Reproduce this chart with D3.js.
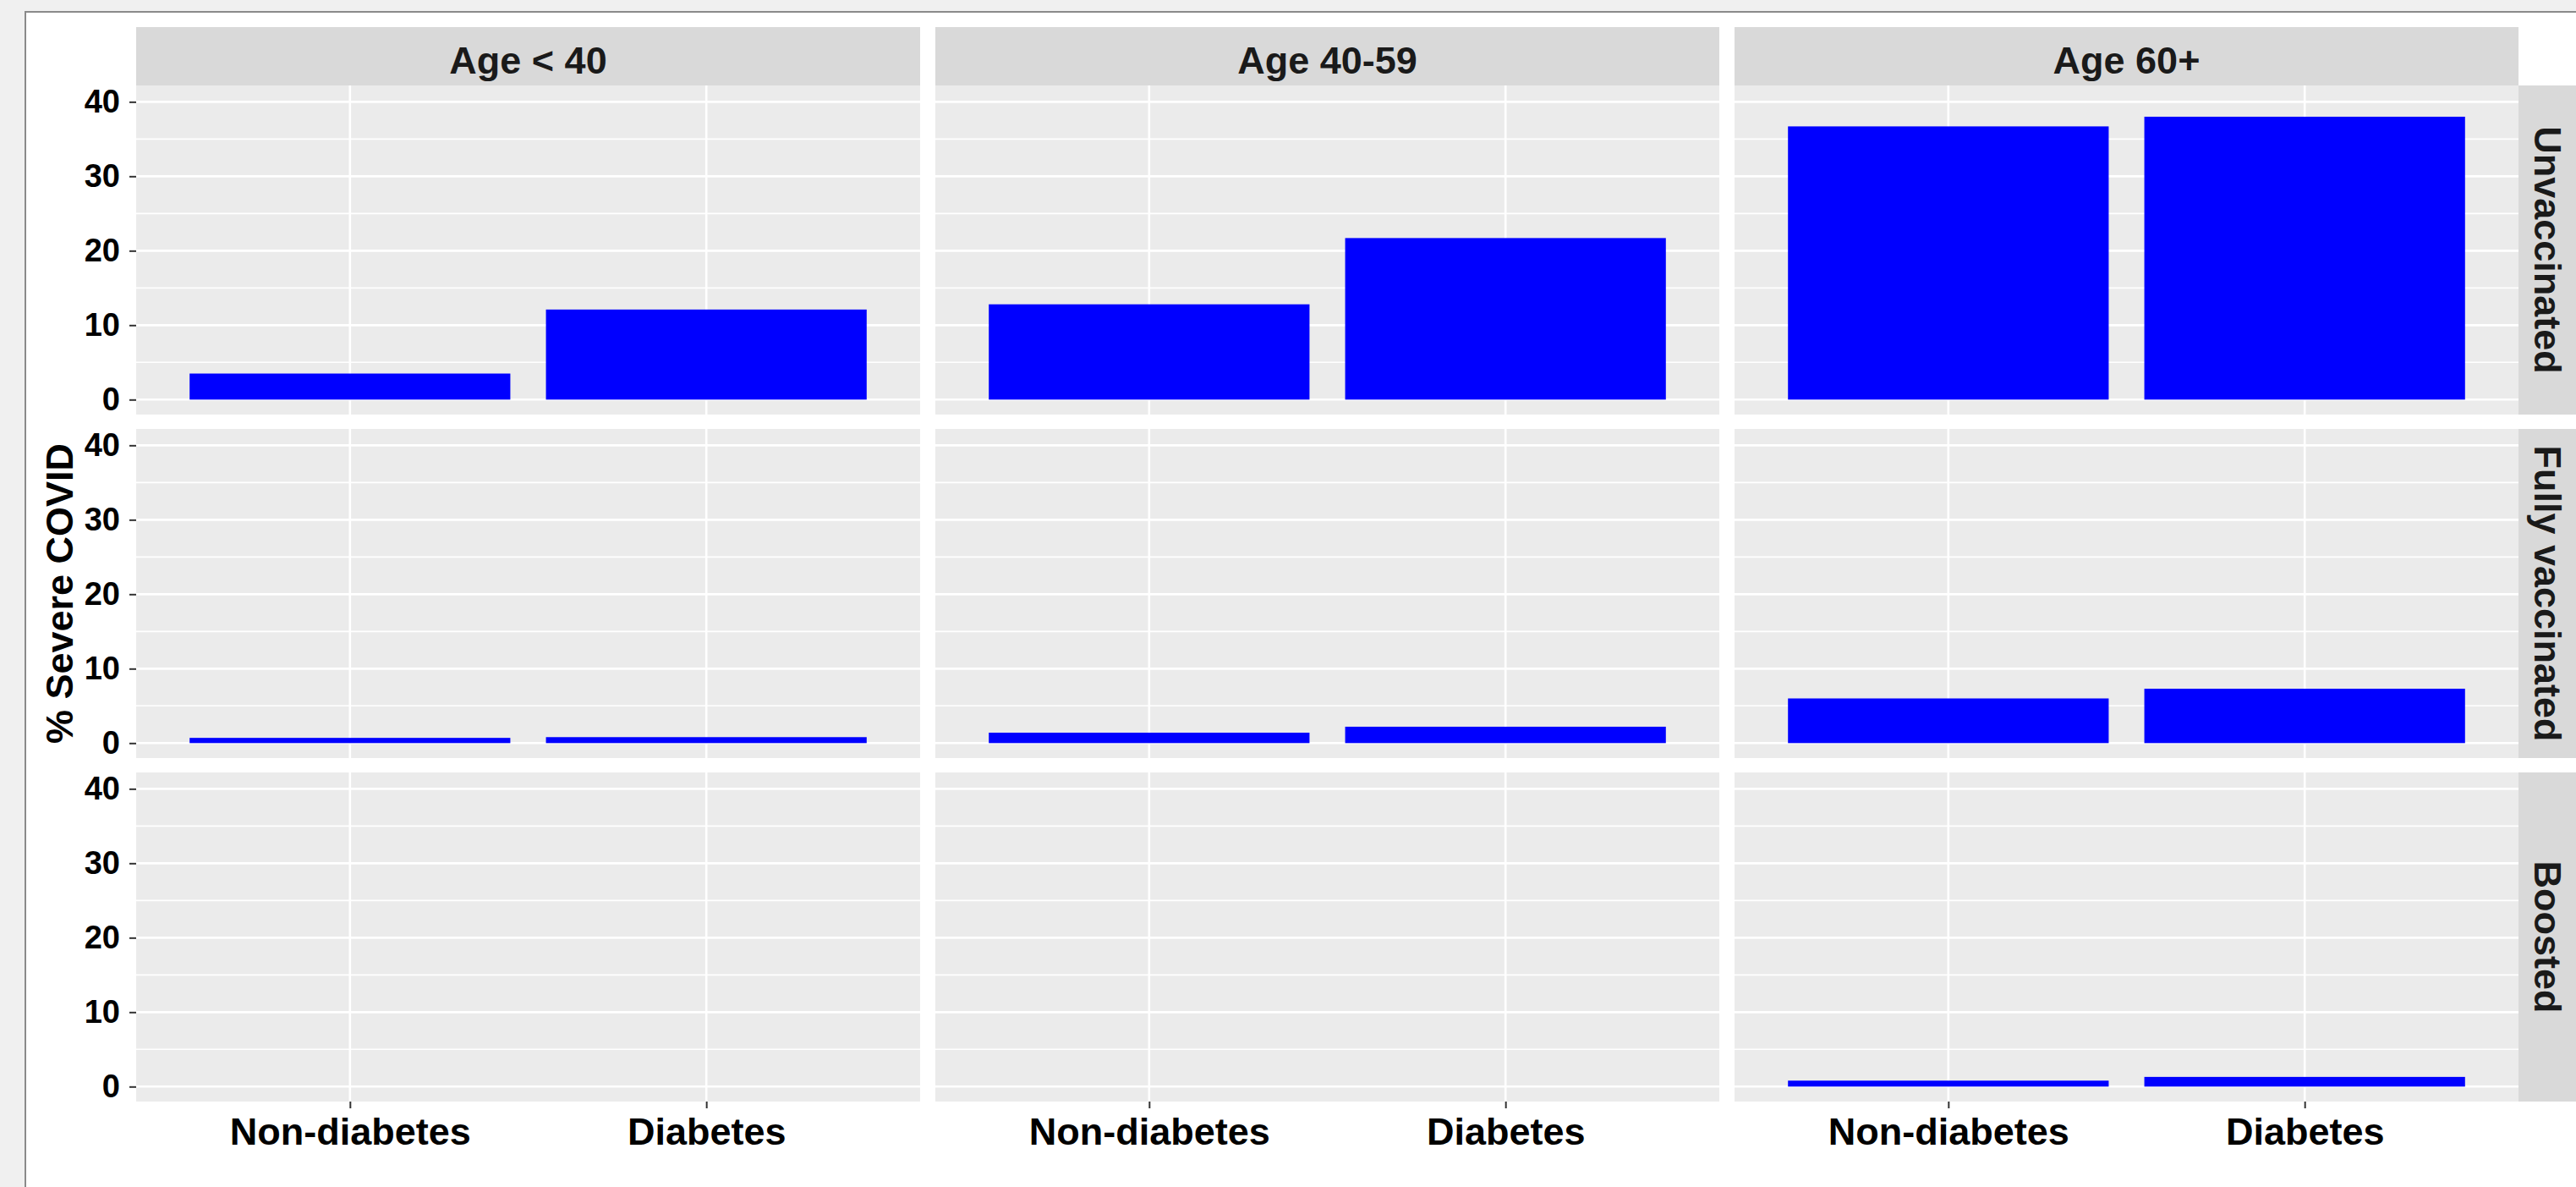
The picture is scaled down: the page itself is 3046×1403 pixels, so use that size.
<!DOCTYPE html>
<html>
<head>
<meta charset="utf-8">
<script src="https://cdnjs.cloudflare.com/ajax/libs/d3/7.8.5/d3.min.js"></script>
<style>
  body { margin: 0; background: #f0f0f0; }
  svg { display: block; }
  text { font-family: "Liberation Sans", Arial, sans-serif; font-weight: bold; }
</style>
</head>
<body>
<div id="chart"></div>
<script>
var ageGroups = ['Age < 40', 'Age 40-59', 'Age 60+'];
var vaccStatus = ['Unvaccinated', 'Fully vaccinated', 'Boosted'];
var diabetesGroups = ['Non-diabetes', 'Diabetes'];

// % severe covid, one pair [Non-diabetes, Diabetes] per age group
var unvaccinated = [[3.5, 12.1], [12.8, 21.7], [36.7, 38.0]];
var fullyVaccinated = [[0.7, 0.8], [1.4, 2.2], [6.0, 7.3]];
var boosted = [[0, 0], [0, 0], [0.8, 1.3]];

var yTicks = [0, 10, 20, 30, 40];
var yMinor = [5, 15, 25, 35];

var rows = [unvaccinated, fullyVaccinated, boosted];

var w = 3046;
var h = 1403;
var panelW = 927;
var panelH = 389;
var colGap = 18;
var rowGap = 17;
var plotLeft = 161;
var plotTop = 101;
var stripH = 69;

var svg = d3.select('#chart')
            .append('svg')
            .attr('width', w)
            .attr('height', h);

// screenshot frame
svg.append('rect')
  .attr('x', 30).attr('y', 14)
  .attr('width', w).attr('height', h)
  .attr('fill', 'white')
  .attr('stroke', '#8a8a8a')
  .attr('stroke-width', 2);

var x = d3.scalePoint()
  .domain(diabetesGroups)
  .range([0, panelW])
  .padding(0.6);
var step = x.step();

var y = d3.scaleLinear()
  .domain([-2.01, 42.2])
  .range([panelH, 0]);

function colX(i) { return plotLeft + i * (panelW + colGap); }
function rowY(j) { return plotTop + j * (panelH + rowGap); }

// top strips
ageGroups.forEach(function(age, i) {
  var g = svg.append('g').attr('transform', 'translate(' + colX(i) + ',' + (plotTop - stripH) + ')');
  g.append('rect')
    .attr('width', panelW)
    .attr('height', stripH)
    .attr('fill', '#d9d9d9');
  g.append('text')
    .attr('x', panelW / 2)
    .attr('y', 55)
    .attr('text-anchor', 'middle')
    .attr('font-size', '45px')
    .attr('fill', '#1a1a1a')
    .text(age);
});

// right strips
vaccStatus.forEach(function(st, j) {
  var sx = colX(2) + panelW;
  var g = svg.append('g').attr('transform', 'translate(' + sx + ',' + rowY(j) + ')');
  g.append('rect')
    .attr('width', stripH)
    .attr('height', panelH)
    .attr('fill', '#d9d9d9');
  g.append('text')
    .attr('transform', 'translate(' + 34 + ',' + (panelH / 2) + ') rotate(90)')
    .attr('text-anchor', 'middle')
    .attr('dominant-baseline', 'central')
    .attr('font-size', '45px')
    .attr('fill', '#1a1a1a')
    .text(st);
});

rows.forEach(function(rowData, j) {
  ageGroups.forEach(function(age, i) {
    var g = svg.append('g')
      .attr('transform', 'translate(' + colX(i) + ',' + rowY(j) + ')');

    g.append('rect')
      .attr('width', panelW)
      .attr('height', panelH)
      .attr('fill', '#ebebeb');

    g.selectAll('line.minor')
      .data(yMinor)
      .enter()
      .append('line')
      .attr('x1', 0).attr('x2', panelW)
      .attr('y1', function(d) { return y(d); })
      .attr('y2', function(d) { return y(d); })
      .attr('stroke', 'white')
      .attr('stroke-width', 1.6);

    g.selectAll('line.major')
      .data(yTicks)
      .enter()
      .append('line')
      .attr('x1', 0).attr('x2', panelW)
      .attr('y1', function(d) { return y(d); })
      .attr('y2', function(d) { return y(d); })
      .attr('stroke', 'white')
      .attr('stroke-width', 2.6);

    g.selectAll('line.vert')
      .data(diabetesGroups)
      .enter()
      .append('line')
      .attr('x1', function(d) { return x(d); })
      .attr('x2', function(d) { return x(d); })
      .attr('y1', 0).attr('y2', panelH)
      .attr('stroke', 'white')
      .attr('stroke-width', 2.6);

    g.selectAll('rect.bar')
      .data(rowData[i])
      .enter()
      .append('rect')
      .attr('x', function(d, k) { return x(diabetesGroups[k]) - step * 0.45; })
      .attr('y', function(d) { return y(d); })
      .attr('width', step * 0.9)
      .attr('height', function(d) { return y(0) - y(d); })
      .attr('fill', '#0000ff');

    if (i === 0) {
      var ay = g.append('g')
        .call(d3.axisLeft(y).tickValues(yTicks).tickSize(8).tickPadding(11));
      ay.select('.domain').remove();
      ay.selectAll('line').attr('stroke', '#333').attr('stroke-width', 2);
      ay.selectAll('text').attr('font-size', '38px').attr('fill', 'black')
        .attr('font-family', '"Liberation Sans", Arial, sans-serif');
    }
    if (j === rows.length - 1) {
      var ax = g.append('g')
        .attr('transform', 'translate(0,' + panelH + ')')
        .call(d3.axisBottom(x).tickSize(8).tickPadding(11));
      ax.select('.domain').remove();
      ax.selectAll('line').attr('stroke', '#333').attr('stroke-width', 2);
      ax.selectAll('text').attr('font-size', '45px').attr('fill', 'black')
        .attr('font-family', '"Liberation Sans", Arial, sans-serif');
    }
  });
});

// y axis title
svg.append('text')
  .attr('transform', 'translate(86,' + (plotTop + (3 * panelH + 2 * rowGap) / 2) + ') rotate(-90)')
  .attr('text-anchor', 'middle')
  .attr('font-size', '45px')
  .attr('fill', 'black')
  .text('% Severe COVID');
</script>
</body>
</html>
